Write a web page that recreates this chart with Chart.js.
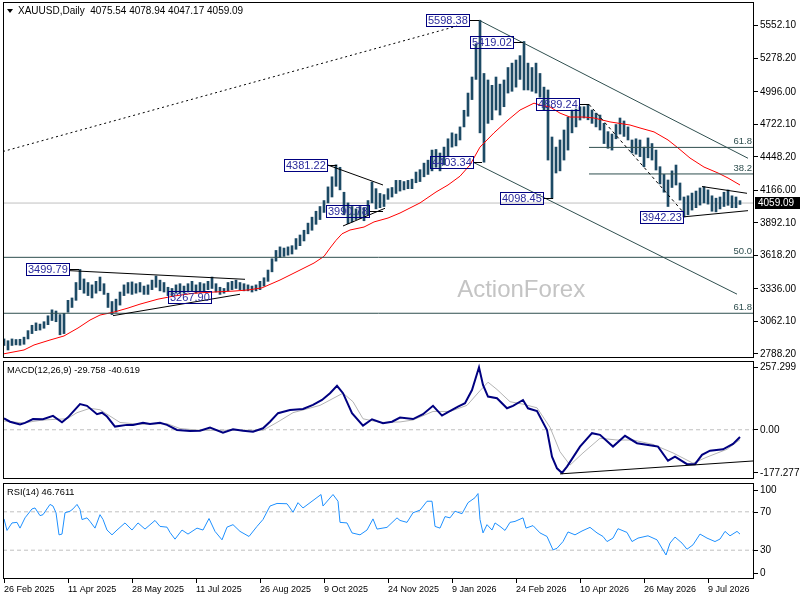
<!DOCTYPE html>
<html>
<head>
<meta charset="utf-8">
<script src="https://cdn.jsdelivr.net/npm/chart.js"></script>
<style>
  html, body { margin: 0; padding: 0; background: #fff; }
  #wrap { position: relative; width: 800px; height: 600px; overflow: hidden; }
  canvas { position: absolute; left: 0; }
</style>
</head>
<body>
<div id="wrap">
  <canvas id="price" width="800" height="360" style="top:0px"></canvas>
  <canvas id="macd" width="800" height="121" style="top:360px"></canvas>
  <canvas id="rsi" width="800" height="119" style="top:481px"></canvas>
</div>
<script>
// ---- data (bar index = trading days since 26 Feb 2025) ----
const dateLabels = ['26 Feb 2025', '11 Apr 2025', '28 May 2025', '11 Jul 2025', '26 Aug 2025', '9 Oct 2025',
  '24 Nov 2025', '9 Jan 2026', '24 Feb 2026', '10 Apr 2026', '26 May 2026', '9 Jul 2026'];
const dateIdx = [0, 32, 64, 96, 128, 160, 192, 224, 256, 288, 320, 352];

// one bar every 2 trading days
const priceHigh = [2915,2900,2915,2910,2912,2930,2985,3030,3050,3040,
  3060,3110,3160,3150,3120,3130,3240,3260,3390,3500,
  3420,3390,3370,3400,3436,3380,3300,3230,3250,3310,
  3370,3390,3395,3380,3390,3360,3370,3410,3445,3410,
  3390,3350,3340,3370,3380,3360,3380,3400,3370,3390,
  3380,3400,3436,3380,3350,3340,3390,3400,3410,3390,
  3380,3370,3360,3370,3400,3430,3495,3590,3660,3690,
  3680,3690,3700,3760,3790,3830,3890,3940,3990,4030,
  4080,4195,4280,4381,4360,4150,4060,4030,4010,4030,
  4020,4080,4236,4180,4140,4130,4180,4190,4250,4250,
  4240,4250,4260,4320,4340,4395,4420,4505,4510,4480,
  4530,4600,4650,4640,4700,4840,4985,5120,5400,5598,
  5150,5095,5050,5120,5060,5095,5200,5237,5263,5300,
  5419,5237,5200,5237,5150,5035,5011,4615,4530,4590,
  4674,4783,4842,4850,4870,4870,4889,4842,4816,4800,
  4730,4660,4640,4720,4775,4750,4700,4590,4600,4590,
  4530,4607,4560,4505,4365,4300,4253,4330,4379,4228,
  4110,4120,4143,4160,4186,4197,4170,4120,4100,4110,
  4150,4169,4120,4110,4079];
const priceLow = [2860,2822,2860,2865,2862,2870,2915,2960,2985,2990,
  3005,3035,3070,3060,2950,2960,3140,3180,3240,3330,
  3300,3280,3260,3300,3320,3290,3180,3120,3140,3200,
  3280,3300,3290,3300,3310,3290,3290,3330,3350,3320,
  3310,3280,3280,3300,3300,3300,3310,3320,3300,3310,
  3320,3330,3340,3310,3290,3300,3320,3330,3340,3330,
  3320,3320,3310,3320,3330,3360,3400,3480,3570,3600,
  3610,3620,3630,3670,3700,3740,3800,3830,3880,3920,
  3980,4060,4110,4200,4170,3960,3885,3900,3920,3930,
  3910,3960,4060,4010,4020,4030,4090,4110,4140,4160,
  4170,4180,4180,4230,4240,4280,4300,4330,4360,4330,
  4380,4450,4530,4540,4590,4700,4790,4930,5100,4650,
  4403,4730,4760,4842,4800,4870,4985,5000,5035,5100,
  5011,5011,5000,4985,4950,4842,4421,4098,4312,4330,
  4421,4505,4650,4700,4758,4775,4760,4730,4700,4674,
  4560,4520,4505,4600,4640,4620,4590,4480,4470,4450,
  4365,4440,4421,4337,4220,4150,4030,4190,4211,4084,
  3942,3960,4000,4020,4042,4060,4050,3990,3985,4010,
  4030,4040,4020,4020,4047];
const lastOHLC = [4075.54, 4078.94, 4047.17, 4059.09];

// moving average [bar, value]
const maPts = [[0,2790],[10,2822],[15,2864],[23,2906],[30,2940],[37,3007],[43,3074],[48,3116],[55,3141],
  [62,3175],[68,3208],[77,3250],[85,3276],[95,3300],[105,3310],[115,3318],[122,3327],[129,3345],[138,3411],
  [146,3478],[155,3554],[160,3610],[163,3680],[166,3745],[169,3800],[173,3832],[180,3857],[185,3900],
  [192,3933],[198,3975],[208,4060],[216,4152],[222,4211],[228,4285],[233,4380],[238,4530],[245,4650],
  [252,4758],[258,4842],[265,4900],[268,4884],[273,4868],[278,4816],[283,4783],[290,4783],[295,4775],
  [303,4742],[313,4716],[318,4691],[325,4658],[332,4590],[337,4523],[343,4438],[350,4362],[357,4312],
  [362,4270],[368,4211]];

const priceTicks = [5552.10, 5278.20, 4996.00, 4722.10, 4448.20, 4166.00, 3892.10, 3618.20, 3336.00, 3062.10, 2788.20];

// pivot labels
const labelValue = [5598.38, 5419.02, 4889.24, 4403.34, 4381.22, 4098.45, 3942.23, 3990.78, 3499.79, 3267.90];
const labelEdge  = [232.5, 254.5, 287.5, 234.5, 161.5, 269.5, 339.5, 182.5, 32.5, 103.5];
const labelPivot = [237.5, 259.5, 292.5, 239, 166.5, 274.5, 340, 189.5, 37.5, 103.5];

// drawn lines [bar, price]
const dottedLine = [[-0.5, 4493], [226.5, 5549]];
const channelTop = [[237.5, 5598.38], [372, 4436]];
const channelBottom = [[234.5, 4403.34], [366.5, 3292]];
const tri1Top = [[32.5, 3490], [120.5, 3417]];
const tri1Bottom = [[54.5, 3111], [118, 3291]];
const tri2Top = [[161.5, 4381.22], [189.5, 4211]];
const tri2Bottom = [[169.5, 3866], [190.5, 4015]];
const tri3Top = [[349, 4198], [371.5, 4141]];
const tri3Bottom = [[339.5, 3942.23], [372, 3995]];
const dashDown = [[292.5, 4889.24], [340, 3975]];

// fibonacci levels
const fibUpperLevels = ['61.8', '38.2'];
const fibUpperValues = [4527.48, 4303.99];
const fibUpperStart = 292.5;
const fibLowerLevels = ['50.0', '61.8'];
const fibLowerValues = [3602.0, 3131.0];

// MACD [bar, value]
const macdPts = [[0,47],[3,33],[8,22],[10.5,28],[14.5,44],[19.5,43],[24.5,57],[29,31],[32,51],[38,105],
  [41.5,98],[46.5,64],[49,70],[51.5,54],[55.5,13],[61.5,20],[64.5,20],[69.5,29],[73,24],[78,29],[81.5,20],
  [86.5,-1],[93,-5],[98,-4],[103,9],[109.5,-12],[114.5,2],[119.5,-4],[124.5,-8],[129.5,6],[133,33],[137,68],
  [143,81],[149.5,85],[154.5,102],[159,122],[163,150],[166.5,180],[169.5,150],[174,68],[179.5,17],[184,43],
  [189.5,27],[194,33],[198,50],[204.5,44],[209.5,64],[214.5,98],[219,58],[222,72],[227,95],[230.5,109],
  [234,163],[237.5,256],[239.5,184],[242,136],[246.5,129],[251.5,88],[254.5,98],[259.5,122],[262,88],
  [266.5,77],[271.5,-1],[274,-110],[276.5,-158],[279,-177],[281.5,-151],[288,-69],[294,-14],[298,-21],
  [304.5,-69],[310.5,-25],[316.5,-55],[324.5,-66],[327,-69],[332,-127],[335.5,-110],[341.5,-141],
  [345.5,-141],[349,-103],[353,-86],[359.5,-80],[364.5,-58],[368,-29.758]];
const signalPts = [[0,36],[9.5,28],[19.5,40],[31.5,45],[36.5,70],[43,88],[48,82],[53,56],[58,30],[68,22],
  [81.5,25],[88,5],[98,-2],[114.5,-2],[129.5,-2],[136.5,30],[144.5,70],[158,100],[169.5,150],[174.5,115],
  [179.5,45],[188,30],[198,32],[204.5,40],[214.5,75],[223,75],[231.5,100],[238,160],[242,195],[246.5,165],
  [253,115],[259.5,105],[266.5,90],[273,10],[278,-90],[283,-145],[289.5,-95],[298,-35],[306.5,-42],
  [314.5,-42],[324.5,-60],[334.5,-95],[344.5,-137],[351.5,-112],[361.5,-80],[368,-40.619]];
const macdTrend = [[278, -181], [374.5, -128]];
const macdTicks = [257.299, 0, -177.277];
const macdTickText = ['257.299', '0.00', '-177.277'];

// RSI [bar, value]
const rsiPts = [[0,62.6],[1.5,50.6],[4,58.4],[6.5,59],[8,53],[10.5,63.7],[14,73],[15.5,74],[18,66],[19.5,67],
  [23,77.7],[24.5,76],[26,69],[27.5,46],[29,46.8],[30.5,69],[33,70.6],[34.5,73],[36.5,77.7],[38,72.4],
  [39,61.9],[41.5,63.7],[43,60],[45.5,53],[48,67],[49.5,62],[51.5,51],[54,46],[56.5,51],[60.5,58.4],
  [64,51],[67,58.4],[70.5,52],[75.5,61],[78,54.8],[81.5,54],[83,48.5],[85.5,41.5],[89,51],[92,46.8],
  [96.5,53],[99.5,51],[102.5,63],[105.5,49.6],[109,40.8],[111.5,54],[114.5,56.6],[118,49.6],[122.5,44.3],
  [126.5,54.8],[129.5,62],[133,76],[136.5,78.7],[141.5,78.4],[144.5,69.6],[147,79.5],[149.5,74],[154,81],
  [158.5,88],[159.5,76],[164.5,88],[167,81],[168,59],[171.5,58.4],[174,48],[178,46],[181.5,51],[184.5,62.6],
  [186.5,52],[191.5,53.8],[196.5,63.7],[198,61],[201.5,59],[204.5,69],[208,71.7],[211.5,81],[214,81],
  [215.5,54.8],[218,53],[220.5,65],[223,63.7],[225.5,70.6],[229,68],[232,79.5],[235.5,84.7],[237,89],
  [238,62],[239.5,48],[241.5,56.6],[244,51],[245.5,58.4],[248,54.8],[250.5,50.6],[253,59],[255.5,60],
  [259.5,63.7],[261,53],[264.5,55.6],[268,48],[271.5,44.3],[274.5,30.3],[276.5,32],[279.5,39],[282,49],
  [285.5,46],[289,50],[293,53.8],[296.5,48],[299.5,44.3],[301.5,39],[304.5,42.6],[307,52.4],[311.5,48.5],
  [314,39],[317,42.6],[322,45],[326.5,40.8],[331,25],[333,37.4],[335.5,43.7],[339,37.4],[341.5,31],
  [344.5,35.6],[348,46.8],[351.5,42.6],[355.5,39],[358,41.6],[360.5,49.6],[363,45],[366.5,49.6],[368,46.7611]];
const rsiLevels = [70, 30];
const rsiTicks = [100, 70, 30, 0];

// ---- setup ----
const FONT = "'Liberation Sans', Arial, sans-serif";
Chart.defaults.font.family = FONT;
Chart.defaults.font.size = 10;
Chart.defaults.color = '#000';

const X_MIN = -0.5, X_MAX = 375;
const BAR = '#1d4a65';
const SLATE = '#2f4f4f';

function fixAxis(w, h) {
  return function (s) {
    if (w != null) s.width = w;
    if (h != null) s.height = h;
    s.paddingTop = 0; s.paddingBottom = 0; s.paddingLeft = 0; s.paddingRight = 0;
  };
}

function xAxis(show) {
  return {
    type: 'linear', min: X_MIN, max: X_MAX, display: show, offset: false,
    afterBuildTicks: s => { s.ticks = dateIdx.map(v => ({ value: v })); },
    afterFit: fixAxis(null, show ? 21 : 0),
    border: { display: false },
    grid: { offset: false, drawOnChartArea: false, drawTicks: true, tickLength: 4, color: '#000' },
    ticks: { autoSkip: false, maxRotation: 0, align: 'start', padding: 1, font: { size: 9 },
      callback: (v, i) => dateLabels[i] }
  };
}

function seg(pts, color, extra) {
  return Object.assign({
    type: 'line', data: pts.map(p => ({ x: p[0], y: p[1] })),
    borderColor: color, borderWidth: 1, pointRadius: 0, fill: false, tension: 0, order: 1
  }, extra || {});
}

function hline(v, from, color, extra) {
  return seg([[from, v], [X_MAX, v]], color, extra);
}

const frame = {
  id: 'frame',
  afterDraw(chart) {
    const { ctx, chartArea: a } = chart;
    ctx.save();
    ctx.strokeStyle = '#000';
    ctx.lineWidth = 1;
    ctx.strokeRect(a.left + 0.5, a.top + 0.5, a.width - 1, a.height - 1);
    ctx.restore();
  }
};

function baseOptions(padding, scales) {
  return {
    responsive: false, animation: false, events: [],
    layout: { padding },
    scales,
    plugins: { legend: { display: false }, tooltip: { enabled: false } }
  };
}

function yAxis(min, max, extra) {
  return Object.assign({
    position: 'right', min, max, offset: false,
    afterFit: fixAxis(46, null),
    border: { display: false },
    grid: { offset: false, drawOnChartArea: false, tickLength: 4, color: '#000' }
  }, extra);
}

// ---- price panel ----
const priceDecor = {
  id: 'priceDecor',
  beforeDatasetsDraw(chart) {
    const { ctx, chartArea: a } = chart;
    ctx.save();
    ctx.font = '24px ' + FONT;
    ctx.fillStyle = '#c4c4c4';
    ctx.textAlign = 'center';
    ctx.textBaseline = 'middle';
    ctx.fillText('ActionForex', a.left + a.width * 0.69, a.top + a.height * 0.81);
    ctx.restore();
  },
  afterDatasetsDraw(chart) {
    const { ctx, chartArea: a, scales: { x: xs, y: ys } } = chart;
    ctx.save();
    // fib level labels
    ctx.font = '9.5px ' + FONT;
    ctx.fillStyle = SLATE;
    ctx.textAlign = 'right';
    ctx.textBaseline = 'bottom';
    fibUpperLevels.forEach((t, n) => ctx.fillText(t, a.right - 2, ys.getPixelForValue(fibUpperValues[n]) - 1));
    fibLowerLevels.forEach((t, n) => ctx.fillText(t, a.right - 2, ys.getPixelForValue(fibLowerValues[n]) - 1));
    // pivot labels
    ctx.font = '11px ' + FONT;
    ctx.textAlign = 'left';
    ctx.textBaseline = 'middle';
    labelValue.forEach((v, n) => {
      const t = v.toFixed(2);
      const xr = Math.round(xs.getPixelForValue(labelEdge[n]));
      const xp = Math.round(xs.getPixelForValue(labelPivot[n]));
      const y = Math.round(ys.getPixelForValue(v)) + 0.5;
      const w = Math.ceil(ctx.measureText(t).width) + 3;
      if (xp > xr) {
        ctx.strokeStyle = '#000';
        ctx.beginPath(); ctx.moveTo(xr, y); ctx.lineTo(xp, y); ctx.stroke();
      }
      ctx.strokeStyle = '#000080';
      ctx.strokeRect(xr - w + 0.5, y - 6, w, 12);
      ctx.fillStyle = '#2b2b9c';
      ctx.fillText(t, xr - w + 2, y + 0.5);
    });
    ctx.restore();
  },
  afterDraw(chart) {
    const { ctx, chartArea: a, scales: { y: ys } } = chart;
    ctx.save();
    // title
    ctx.fillStyle = '#000';
    ctx.beginPath();
    ctx.moveTo(a.left + 4, a.top + 7); ctx.lineTo(a.left + 10, a.top + 7); ctx.lineTo(a.left + 7, a.top + 11);
    ctx.closePath(); ctx.fill();
    ctx.font = '10px ' + FONT;
    ctx.textBaseline = 'middle';
    ctx.fillText('XAUUSD,Daily  ' + lastOHLC.map(v => v.toFixed(2)).join(' '), a.left + 15, a.top + 9);
    // last price tag
    const y = Math.round(ys.getPixelForValue(lastOHLC[3]));
    ctx.fillRect(a.right + 1, y - 6, chart.width - a.right - 1, 12);
    ctx.fillStyle = '#fff';
    ctx.fillText(lastOHLC[3].toFixed(2), a.right + 4, y + 0.5);
    ctx.restore();
  }
};

const barData = priceHigh.map((h, k) => ({ x: k * 2, y: [priceLow[k], h] }));

new Chart(document.getElementById('price'), {
  type: 'line',
  data: {
    datasets: [
      hline(lastOHLC[3], X_MIN, '#c0c0c0', { order: 20 }),
      { type: 'bar', data: barData, backgroundColor: BAR, barThickness: 2, grouped: false, order: 10 },
      seg(maPts, '#ff0000', { order: 5 }),
      ...fibUpperValues.map(v => hline(v, fibUpperStart, SLATE, { order: 3 })),
      ...fibLowerValues.map(v => hline(v, X_MIN, SLATE, { order: 3 })),
      seg(channelTop, SLATE, { order: 2 }),
      seg(channelBottom, SLATE, { order: 2 }),
      seg(dottedLine, '#000', { borderDash: [2, 3], order: 2 }),
      seg(dashDown, '#000', { borderDash: [3, 3], order: 2 }),
      seg(tri1Top, '#000'), seg(tri1Bottom, '#000'),
      seg(tri2Top, '#000'), seg(tri2Bottom, '#000'),
      seg(tri3Top, '#000'), seg(tri3Bottom, '#000')
    ]
  },
  options: baseOptions({ left: 3, top: 2, bottom: 2, right: 0 }, {
    x: xAxis(false),
    y: yAxis(2754.5, 5751.6, {
      afterBuildTicks: s => { s.ticks = priceTicks.map(v => ({ value: v })); },
      ticks: { padding: 2, callback: v => v.toFixed(2) }
    })
  }),
  plugins: [priceDecor, frame]
});

// ---- MACD panel ----
const macdTitle = {
  id: 'macdTitle',
  afterDraw(chart) {
    const { ctx, chartArea: a } = chart;
    ctx.save();
    ctx.font = '9.3px ' + FONT;
    ctx.fillStyle = '#000';
    ctx.textBaseline = 'middle';
    const m = macdPts[macdPts.length - 1][1], s = signalPts[signalPts.length - 1][1];
    ctx.fillText('MACD(12,26,9) ' + m.toFixed(3) + ' ' + s.toFixed(3), a.left + 4, a.top + 9);
    ctx.restore();
  }
};

new Chart(document.getElementById('macd'), {
  type: 'line',
  data: {
    datasets: [
      seg(macdTrend, '#000', { order: 0 }),
      seg(macdPts, '#000080', { borderWidth: 2, order: 1 }),
      seg(signalPts, '#b4b4b4', { order: 2 }),
      hline(0, X_MIN, '#c0c0c0', { borderDash: [4, 3], order: 3 })
    ]
  },
  options: baseOptions({ left: 3, top: 1, bottom: 2, right: 0 }, {
    x: xAxis(false),
    y: yAxis(-201.9, 281.9, {
      afterBuildTicks: s => { s.ticks = macdTicks.map(v => ({ value: v })); },
      ticks: { padding: 2, callback: (v, i) => macdTickText[i] }
    })
  }),
  plugins: [macdTitle, frame]
});

// ---- RSI panel ----
const rsiDecor = {
  id: 'rsiDecor',
  afterDraw(chart) {
    const { ctx, chartArea: a, scales: { y: ys } } = chart;
    ctx.save();
    ctx.fillStyle = '#000';
    ctx.strokeStyle = '#000';
    ctx.textBaseline = 'middle';
    ctx.font = '10px ' + FONT;
    rsiTicks.forEach(v => {
      const y = Math.round(Math.min(Math.max(ys.getPixelForValue(v), a.top + 7), a.bottom - 6));
      ctx.beginPath(); ctx.moveTo(a.right, y + 0.5); ctx.lineTo(a.right + 4, y + 0.5); ctx.stroke();
      ctx.fillText(String(v), a.right + 6, y);
    });
    ctx.font = '9.3px ' + FONT;
    ctx.fillText('RSI(14) ' + rsiPts[rsiPts.length - 1][1].toFixed(4), a.left + 4, a.top + 9);
    ctx.restore();
  }
};

new Chart(document.getElementById('rsi'), {
  type: 'line',
  data: {
    datasets: [
      seg(rsiPts, '#1e90ff', { order: 1 }),
      ...rsiLevels.map(v => hline(v, X_MIN, '#c0c0c0', { borderDash: [4, 3], order: 3 }))
    ]
  },
  options: baseOptions({ left: 3, top: 2, bottom: 0, right: 0 }, {
    x: xAxis(true),
    y: yAxis(0, 100, { grid: { display: false }, ticks: { display: false } })
  }),
  plugins: [rsiDecor, frame]
});
</script>
</body>
</html>
